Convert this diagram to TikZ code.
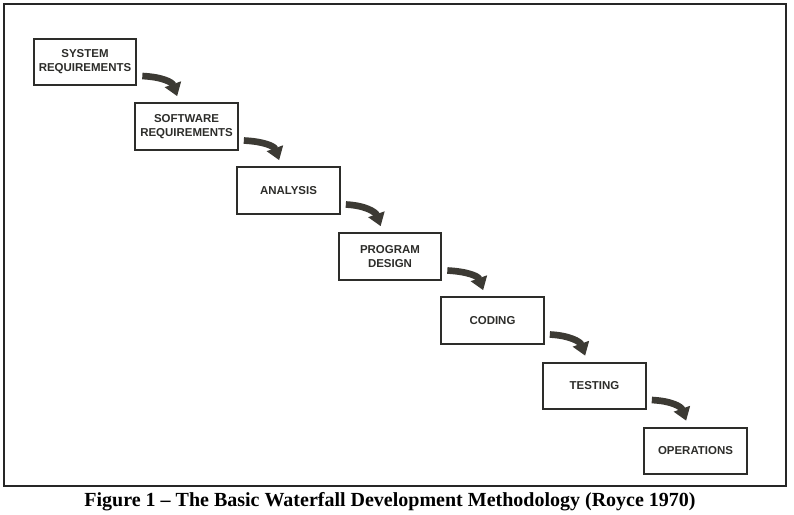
\documentclass[tikz,border=0pt]{standalone}
\usepackage{fontspec}
\setmainfont{Liberation Serif}
\newfontfamily\boxfont{Liberation Sans}
\usetikzlibrary{calc,arrows.meta}

\definecolor{inkgray}{RGB}{45,45,42}
\definecolor{arrowgray}{RGB}{60,58,52}

\tikzset{
  stagebox/.style={draw=inkgray, line width=1.5pt, minimum width=77pt, minimum height=35pt,
    align=center, inner sep=1pt, text=inkgray, font=\boxfont\bfseries\fontsize{8.6}{10.5}\selectfont},
  flowarrow/.style={draw=arrowgray, line width=5pt,
    -{Triangle[width=12.5pt,length=9.5pt]}}
}

\begin{document}
\begin{tikzpicture}[x=0.75pt,y=0.75pt,yscale=-1,xscale=1]
    \useasboundingbox (0,0) rectangle (794,515);

    %Shape: Frame
    \draw [line width=0.9pt, color=black!85] (4,4) rectangle (786,486);

    % Stage Nodes
    \node [stagebox] (sysreq) at (85,62) {SYSTEM\\REQUIREMENTS};
    \node [stagebox] (swreq) at (186.5,126.5) {SOFTWARE\\REQUIREMENTS};
    \node [stagebox] (analysis) at (288.5,190.5) {ANALYSIS};
    \node [stagebox] (progdesign) at (390,256.5) {PROGRAM\\DESIGN};
    \node [stagebox] (coding) at (492.5,320.5) {CODING};
    \node [stagebox] (testing) at (594.5,386) {TESTING};
    \node [stagebox] (operations) at (695.5,451) {OPERATIONS};

    % Arrows
    \draw [flowarrow] ($(sysreq.east)+(5,14)$) .. controls +(20,1) and +(-5,-14) .. ($(swreq.north west)+(43,-6)$);
    \draw [flowarrow] ($(swreq.east)+(5,14)$) .. controls +(20,1) and +(-5,-14) .. ($(analysis.north west)+(43,-6)$);
    \draw [flowarrow] ($(analysis.east)+(5,14)$) .. controls +(20,1) and +(-5,-14) .. ($(progdesign.north west)+(43,-6)$);
    \draw [flowarrow] ($(progdesign.east)+(5,14)$) .. controls +(20,1) and +(-5,-14) .. ($(coding.north west)+(43,-6)$);
    \draw [flowarrow] ($(coding.east)+(5,14)$) .. controls +(20,1) and +(-5,-14) .. ($(testing.north west)+(43,-6)$);
    \draw [flowarrow] ($(testing.east)+(5,14)$) .. controls +(20,1) and +(-5,-14) .. ($(operations.north west)+(43,-6)$);

    % Text Node
    \node [font=\bfseries\fontsize{15}{17}\selectfont] (caption) at (390,502) {Figure 1 -- The Basic Waterfall Development Methodology (Royce 1970)};

\end{tikzpicture}
\end{document}
